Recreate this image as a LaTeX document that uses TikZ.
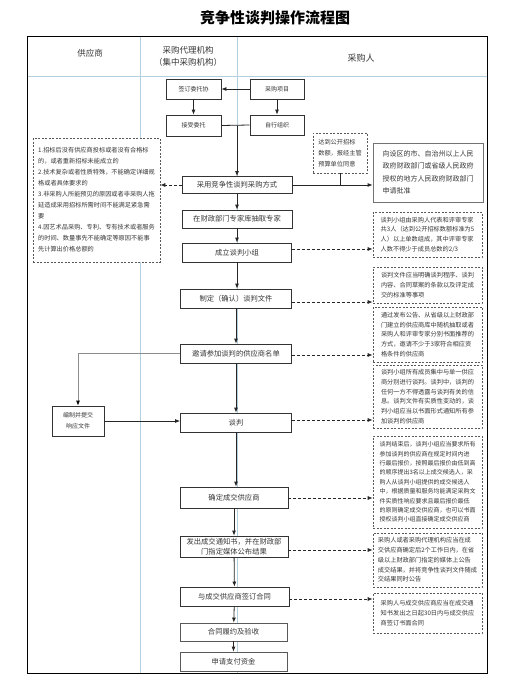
\documentclass[tikz,border=0pt]{standalone}
\usepackage{fontspec}
\setmainfont{Noto Sans CJK SC}
\usetikzlibrary{arrows.meta}
\definecolor{lane}{RGB}{180,208,224}
\definecolor{ink}{RGB}{55,55,55}
\tikzset{
  box/.style={draw=black!80, line width=0.8pt, fill=white, inner sep=1pt, text=ink,
    font=\fontsize{7.3}{9.5}\selectfont, align=center},
  smallbox/.style={box, font=\fontsize{6}{10}\selectfont},
  note/.style={draw=black!65, dash pattern=on 2pt off 1.5pt, line width=0.6pt, fill=white,
    text=ink, font=\fontsize{6.2}{9.7}\selectfont, align=left, inner sep=2pt},
  arr/.style={-{Latex[length=5pt,width=4pt]}, line width=0.8pt, draw=black!85},
  darr/.style={arr, dash pattern=on 3pt off 2pt},
  lanehead/.style={text=ink, font=\fontsize{8.5}{12}\selectfont, align=center}
}
\begin{document}
\begin{tikzpicture}[x=1pt,y=-1pt]
\useasboundingbox (0,0) rectangle (513,699);
\fill[white] (0,0) rectangle (513,699);
% title
\node[font=\fontsize{15}{18}\selectfont\bfseries] (title) at (275,18) {竞争性谈判操作流程图};
% lanes
\draw[lane, line width=0.8pt] (27,76) -- (487,76);
\draw[lane, line width=0.8pt] (140,36) -- (140,673);
\draw[lane, line width=0.8pt] (237,36) -- (237,673);
\draw[black, line width=0.9pt] (27,36) rectangle (487,673);
\node[lanehead] (h1) at (90,53) {供应商};
\node[lanehead] (h2) at (188,56) {采购代理机构\\（集中采购机构）};
\node[lanehead, font=\fontsize{9}{12}\selectfont] (h3) at (361,58) {采购人};
% top boxes
\node[smallbox, minimum width=55pt, minimum height=20pt] (a1) at (193.5,89) {签订委托协};
\node[smallbox, minimum width=54pt, minimum height=20pt] (b1) at (277,89) {采购项目};
\node[smallbox, minimum width=55pt, minimum height=21pt] (a2) at (193.5,125.5) {接受委托};
\node[smallbox, minimum width=54pt, minimum height=20pt] (b2) at (277,125) {自行组织};
% main flow
\node[box, minimum width=110pt, minimum height=17pt] (m1) at (237,185) {采用竞争性谈判采购方式};
\node[box, minimum width=110pt, minimum height=18pt] (m2) at (237,219) {在财政部门专家库抽取专家};
\node[box, minimum width=109pt, minimum height=19pt] (m3) at (237,252.5) {成立谈判小组};
\node[box, minimum width=111pt, minimum height=19pt] (m4) at (236,298.5) {制定（确认）谈判文件};
\node[box, minimum width=111pt, minimum height=19pt] (m5) at (236,353.5) {邀请参加谈判的供应商名单};
\node[box, minimum width=111pt, minimum height=19pt] (m6) at (236,422.5) {谈判};
\node[box, minimum width=108pt, minimum height=21pt] (m7) at (234,497.5) {确定成交供应商};
\node[box, minimum width=108pt, minimum height=21pt] (m8) at (234,546.5) {发出成交通知书，并在财政部\\门指定媒体公布结果};
\node[box, minimum width=109pt, minimum height=19pt] (m9) at (234.5,596.5) {与成交供应商签订合同};
\node[box, draw=black!65, minimum width=107pt, minimum height=18pt] (m10) at (233.5,632) {合同履约及验收};
\node[box, draw=black!65, minimum width=107pt, minimum height=19pt] (m11) at (233.5,661.5) {申请支付资金};
% left notes
\node[note, minimum width=127pt, minimum height=124pt, font=\fontsize{6.2}{11}\selectfont] (L) at (96.5,200) {1.招标后没有供应商投标或者没有合格标\\的，或者重新招标未能成立的\\2.技术复杂或者性质特殊，不能确定详细规\\格或者具体要求的\\3.非采购人所能预见的原因或者非采购人拖\\延造成采用招标所需时间不能满足紧急需\\要\\4.因艺术品采购、专利、专有技术或者服务\\的时间、数量事先不能确定等原因不能事\\先计算出价格总额的};
\node[smallbox, minimum width=52pt, minimum height=30pt, font=\fontsize{6}{11}\selectfont] (E) at (78,421) {编制并提交\\响应文件};
% right notes
\node[note, minimum width=54pt, minimum height=40pt, font=\fontsize{6.2}{11}\selectfont] (R0) at (340,153) {达到公开招标\\数额，报经主管\\预算单位同意};
\node[box, draw=black!55, minimum width=110pt, minimum height=59pt, align=left, font=\fontsize{7}{12.5}\selectfont] (R1) at (428,172.5) {向设区的市、自治州以上人民\\政府财政部门或省级人民政府\\授权的地方人民政府财政部门\\申请批准};
\node[note, minimum width=109pt, minimum height=45pt] (D1) at (427.5,234.5) {谈判小组由采购人代表和评审专家\\共3人（达到公开招标数额标准为5\\人）以上单数组成，其中评审专家\\人数不得少于成员总数的2/3};
\node[note, minimum width=109pt, minimum height=36pt] (D2) at (427.5,285) {谈判文件应当明确谈判程序、谈判\\内容、合同草案的条款以及评定成\\交的标准等事项};
\node[note, minimum width=109pt, minimum height=55pt] (D3) at (427.5,334.5) {通过发布公告、从省级以上财政部\\门建立的供应商库中随机抽取或者\\采购人和评审专家分别书面推荐的\\方式，邀请不少于3家符合相应资\\格条件的供应商};
\node[note, minimum width=109pt, minimum height=63pt] (D4) at (427.5,396.5) {谈判小组所有成员集中与单一供应\\商分别进行谈判。谈判中，谈判的\\任何一方不得透露与谈判有关的信\\息。谈判文件有实质性变动的，谈\\判小组应当以书面形式通知所有参\\加谈判的供应商};
\node[note, minimum width=109pt, minimum height=92pt, font=\fontsize{6}{9.4}\selectfont] (D5) at (427.5,482) {谈判结束后，谈判小组应当要求所有\\参加谈判的供应商在规定时间内进\\行最后报价，按照最后报价由低到高\\的顺序提出3名以上成交候选人，采\\购人从谈判小组提供的成交候选人\\中，根据质量和服务均能满足采购文\\件实质性响应要求且最后报价最低\\的原则确定成交供应商，也可以书面\\授权谈判小组直接确定成交供应商};
\node[note, minimum width=109pt, minimum height=54pt] (D6) at (427.5,560) {采购人或者采购代理机构应当在成\\交供应商确定后2个工作日内，在省\\级以上财政部门指定的媒体上公告\\成交结果，并将竞争性谈判文件随成\\交结果同时公告};
\node[note, minimum width=109pt, minimum height=40pt] (D7) at (427.5,613) {采购人与成交供应商应当在成交通\\知书发出之日起30日内与成交供应\\商签订书面合同};
% top connectors
\draw[arr] (b1) -- (a1);
\draw[arr] (a1) -- (a2);
\draw[arr] (b1) -- (b2);
\draw[line width=0.8pt, draw=black!85] (a2.east) -- (b2.west);
\draw[arr] (a2.east -| m1.north) -- (m1.north);
% main flow arrows
\draw[arr] (m1) -- (m2);
\draw[arr] (m2) -- (m3);
\draw[arr] (m3.south) -- (m3.south |- m4.north);
\draw[arr] (m4) -- (m5);
\draw[arr] (m5) -- (m6);
\draw[arr] (m6.south) -- (m6.south |- m7.north);
\draw[arr] (m7) -- (m8);
\draw[arr] (m8) -- (m9);
\draw[arr] (m9) -- (m10);
\draw[arr] (m10) -- (m11);
% side connectors
\draw[darr] (m1.west) -- (m1.west -| L.east);
\draw[line width=0.8pt, draw=black!85] (R0.south) -- (R0.south |- m1.east);
\draw[arr] (m1.east) -- (m1.east -| R1.west);
\draw[darr] (m3.east |- 0,249) -- (D1.west |- 0,249);
\draw[darr] (m4.east |- 0,302) -- (D2.west |- 0,302);
\draw[darr] (m5.east |- 0,355) -- (D3.west |- 0,355);
\draw[darr] (m6.east |- 0,420) -- (D4.west |- 0,420);
\draw[darr] (m7.east |- 0,498) -- (D5.west |- 0,498);
\draw[darr] (m8.east |- 0,550) -- (D6.west |- 0,550);
\draw[darr] (m9.east |- 0,599) -- (D7.west |- 0,599);
\draw[arr, draw=black!45, -{Latex[length=5pt,width=4pt,color=black]}] (m5.west) -| (E.north);
\draw[arr] (E.east) -- (E.east -| m6.west);
\end{tikzpicture}
\end{document}
